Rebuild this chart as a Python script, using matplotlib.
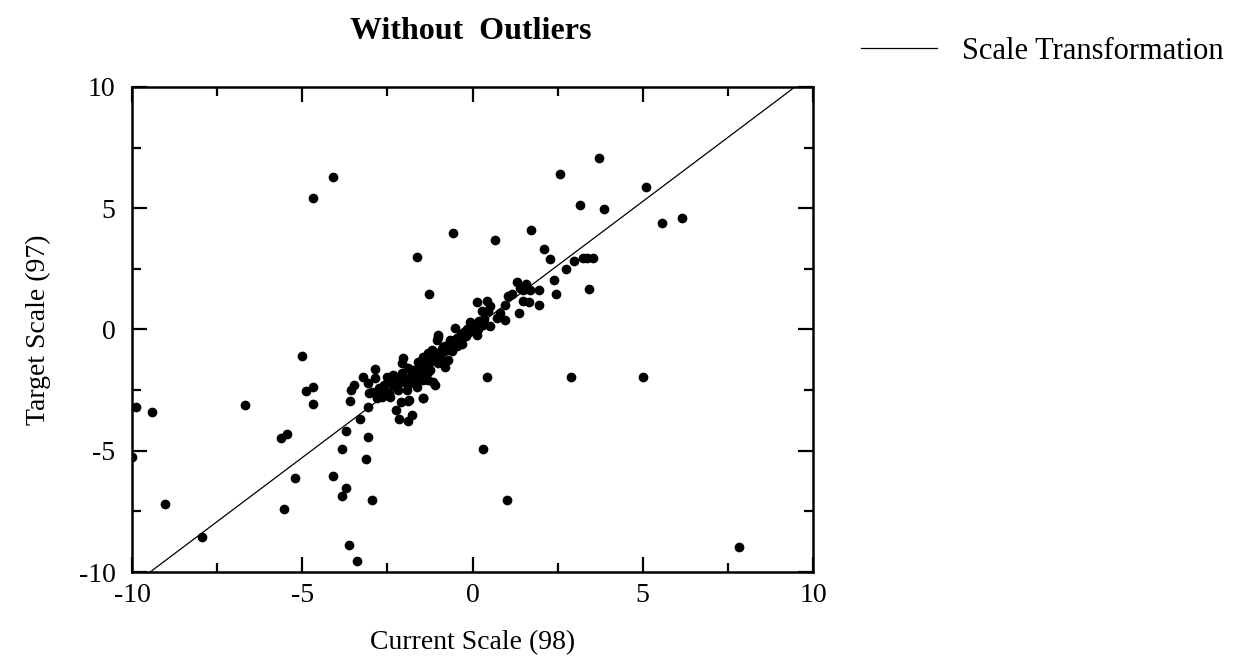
import matplotlib
matplotlib.use('Agg')
import matplotlib.pyplot as plt
from matplotlib.ticker import MultipleLocator
import numpy as np

plt.rcParams['font.family'] = ['Liberation Serif', 'DejaVu Serif']
plt.rcParams['axes.unicode_minus'] = False

# current scale (98) vs target scale (97)
cur_scale = [
    -4.09, -4.68, -1.64, -1.28,
    3.72, 2.58, 5.10, 3.16, 3.87, 5.57, 6.16,
    -0.58, 0.65, 1.71, 2.11, 2.28, 2.98, 3.25, 3.36, 3.55, 2.74, 2.40, 3.42, 2.44,
    1.32, 1.57, 1.40, 1.49, 1.69, 1.95, 1.47, 1.66, 1.96, 1.03, 1.15, 0.95, 1.37,
    0.12, 0.42, 0.51, 0.27, 0.46, 0.81, 0.71, 0.95, -0.07, 0.17, 0.51, -0.51,
    0.42, 2.88, 5.01, 0.32, 1.00, 7.82,
    0.12, -1.00, -0.81, -1.15, -1.10, -1.44, -0.71,
    -5.02, -9.88, -9.42, -6.68, -10.0, -9.03, -7.94,
    -4.90, -4.69, -4.69, -5.63, -5.44, -5.21, -5.54, -4.09, -3.82, -3.72, -3.83, -3.72,
    -3.63, -3.39, -3.12, -3.06, -2.94, -3.30,
    -3.61, -3.57, -3.48, -3.21, -3.08, -3.08, -3.04, -2.86, -2.86, -2.81, -2.67, -2.42,
    -2.26, -2.17, -1.90, -1.79,
    -2.52, -2.33, -2.13, -2.03, -2.08, -1.93, -1.86, -1.64, -1.46, -1.44, -1.30, -1.74,
    -1.54, -1.35,
    -2.96, -2.72, -2.52, -2.11, -1.90, -2.47, -2.33, -2.08, -1.98, -1.79, -1.64,
    -1.25, -1.54, -1.44, -1.30, -1.20, -1.05, -1.00, -1.15,
    -0.37, -0.17, 0.02, 0.17, -0.66, -0.86, -0.95,
    -1.90, -1.80, -1.70, -1.60, -1.50, -1.45, -1.35, -1.25, -1.20, -1.10, -1.05, -0.95,
    -0.90, -0.85, -0.80, -0.75, -0.70, -0.65, -0.60, -0.55, -0.50, -0.45, -0.40, -0.35,
    -0.30, -0.25, -0.20, -0.15, -0.10, -0.05, 0.00, 0.05, 0.10, 0.15, 0.20, 0.30, 0.35,
    -2.20, -2.00, -1.85, -1.70, -1.55, -1.40, -1.60, -1.00, -0.90, -1.30, -0.60, -0.45,
    -0.30, -2.35, -2.60, -2.75, -2.20, -2.45,
]
tgt_scale = [
    6.30, 5.41, 2.98, 1.47,
    7.07, 6.41, 5.89, 5.15, 4.98, 4.40, 4.58,
    3.98, 3.68, 4.09, 3.33, 2.89, 2.84, 2.94, 2.94, 2.96, 2.48, 2.03, 1.68, 1.45,
    1.95, 1.89, 1.70, 1.63, 1.63, 1.62, 1.19, 1.12, 1.00, 1.38, 1.45, 1.01, 0.68,
    1.15, 1.19, 0.97, 0.78, 0.78, 0.67, 0.46, 0.39, 0.32, 0.30, 0.14, 0.05,
    -1.95, -1.95, -1.95, -4.94, -7.03, -8.97,
    -0.23, -0.30, -1.53, -2.15, -2.29, -2.84, -1.26,
    -1.08, -3.21, -3.40, -3.13, -5.25, -7.21, -8.56,
    -2.52, -2.37, -3.09, -4.47, -4.31, -6.12, -7.42, -6.03, -4.92, -4.17, -6.85, -6.52,
    -8.90, -9.55, -5.33, -4.43, -7.03, -3.70,
    -2.95, -2.49, -2.29, -1.97, -2.22, -3.21, -2.61, -1.64, -2.01, -2.84, -2.77, -2.77,
    -3.32, -3.69, -3.76, -3.53,
    -1.95, -2.01, -1.95, -1.19, -1.39, -2.49, -2.91, -2.36, -2.84, -2.08, -2.08, -1.67,
    -1.39, -1.12,
    -2.56, -2.70, -2.56, -2.98, -2.94, -2.01, -1.88, -1.81, -2.08, -1.95, -2.08,
    -1.67, -1.53, -1.12, -0.98, -0.85, -0.43, -0.23, -1.26,
    -0.30, -0.16, -0.02, 0.19, -0.43, -0.71, -0.98,
    -1.60, -1.90, -1.80, -1.70, -1.80, -1.55, -1.45, -1.35, -1.10, -1.20, -0.95, -1.10,
    -0.80, -0.90, -0.70, -0.85, -0.60, -0.75, -0.55, -0.45, -0.60, -0.35, -0.50, -0.20,
    -0.35, -0.10, -0.25, 0.00, -0.10, 0.10, 0.05, 0.20, 0.10, 0.00, 0.35, 0.20, 0.45,
    -2.20, -2.15, -2.20, -2.10, -2.05, -1.85, -1.35, -1.40, -1.30, -1.75, -0.90, -0.70,
    -0.60, -2.30, -2.30, -2.40, -2.50, -2.60,
]

# scale transformation line
fit_slope = 1.056
fit_intercept = 0.0
fit_range = [-9.47, 9.47]

fig = plt.figure(figsize=(12.41, 6.67), dpi=100)
ax = fig.add_axes([0.1064, 0.1424, 0.5487, 0.7272])

ax.plot(cur_scale, tgt_scale, 'o', color='black', markersize=7.0, markeredgewidth=0)
xl = np.array(fit_range)
ax.plot(xl, fit_slope * xl + fit_intercept, '-', color='black', linewidth=0.9,
        label='Scale Transformation')

ax.set_xlim(-10, 10)
ax.set_ylim(-10, 10)
ax.xaxis.set_major_locator(MultipleLocator(5))
ax.xaxis.set_minor_locator(MultipleLocator(2.5))
ax.yaxis.set_major_locator(MultipleLocator(5))
ax.yaxis.set_minor_locator(MultipleLocator(2.5))
ax.tick_params(which='both', direction='in', top=True, right=True, width=1.6,
               labelsize=20)
ax.tick_params(which='major', length=11)
ax.tick_params(which='minor', length=6.5)
ax.tick_params(axis='y', pad=12)
ax.tick_params(axis='x', pad=8)
for s in ax.spines.values():
    s.set_linewidth(1.8)

ax.set_xlabel('Current Scale (98)', fontsize=20, labelpad=16)
ax.set_ylabel('Target Scale (97)', fontsize=20, labelpad=20)
fig.text(0.379, 0.953, 'Without  Outliers', fontsize=23, fontweight='bold',
         ha='center', va='center')

ax.legend(loc='upper left', bbox_to_anchor=(1.03, 1.16), frameon=False,
          fontsize=22, handlelength=2.5, handletextpad=0.8)

plt.savefig('out.png', dpi=100)
plt.close()
